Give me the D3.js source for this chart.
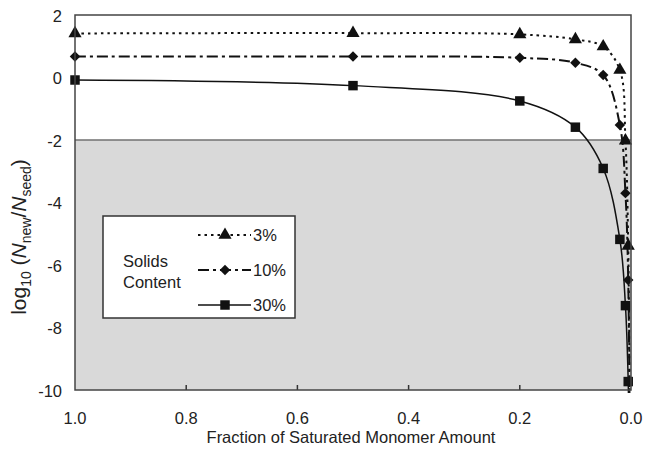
<!DOCTYPE html>
<html>
<head>
<meta charset="utf-8">
<script src="https://cdn.jsdelivr.net/npm/d3@7"></script>
<style>
  body { margin: 0; background: #fff; }
  text { font-family: 'Liberation Sans', Arial, sans-serif; fill: #222; }
</style>
</head>
<body>
<div id="chart"></div>
<script>
// data
let fractions = [1.0, 0.5, 0.2, 0.1, 0.05, 0.02, 0.01, 0.005, 0.002]
let solids3 = [1.41, 1.42, 1.38, 1.22, 0.99, 0.24, -2.02, -5.39, -11.5]
let solids10 = [0.67, 0.67, 0.63, 0.47, 0.08, -1.52, -3.7, -6.48, -12.5]
let solids30 = [-0.08, -0.26, -0.75, -1.59, -2.91, -5.18, -7.3, -9.73, -13]
let xTicks = [1.0, 0.8, 0.6, 0.4, 0.2, 0.0]
let yTicks = [2, 0, -2, -4, -6, -8, -10]
let shadeTop = -2

let margin = { top: 15, left: 75, right: 14, bottom: 63 }
let width = 645 - margin.left - margin.right
let height = 453 - margin.top - margin.bottom
let fontSize = 16.5

let svg = d3
  .select('#chart')
  .append('svg')
  .attr('width', 645)
  .attr('height', 453)
  .append('g')
  .attr('transform', `translate(${margin.left},${margin.top})`)

let x = d3.scaleLinear().domain([1, 0]).range([0, width])
let y = d3.scaleLinear().domain([2, -10]).range([0, height])

svg.append('defs').append('clipPath').attr('id', 'clip')
  .append('rect')
  .attr('x', -7).attr('y', -7)
  .attr('width', width + 14).attr('height', height + 10)

// shaded region
svg.append('rect')
  .attr('x', 0)
  .attr('y', y(shadeTop))
  .attr('width', width)
  .attr('height', height - y(shadeTop))
  .attr('fill', '#d9d9d9')

svg.append('line')
  .attr('x1', 0).attr('x2', width)
  .attr('y1', y(shadeTop)).attr('y2', y(shadeTop))
  .attr('stroke', '#707070')
  .attr('stroke-width', 1.5)

// x axis ticks (inside) and labels
svg.selectAll('.xtick')
  .data(xTicks.slice(1, -1))
  .enter()
  .append('line')
  .attr('x1', d => x(d)).attr('x2', d => x(d))
  .attr('y1', height).attr('y2', height - 5)
  .attr('stroke', '#333')
  .attr('stroke-width', 1.5)

svg.selectAll('.xlabel')
  .data(xTicks)
  .enter()
  .append('text')
  .attr('x', d => x(d))
  .attr('y', height + 34)
  .attr('text-anchor', 'middle')
  .attr('font-size', fontSize)
  .text(d => d.toFixed(1))

svg.selectAll('.ylabel')
  .data(yTicks)
  .enter()
  .append('text')
  .attr('x', -13)
  .attr('y', d => y(d))
  .attr('dy', '0.42em')
  .attr('text-anchor', 'end')
  .attr('font-size', fontSize)
  .text(d => d)

svg.append('text')
  .attr('x', width / 2 - 2)
  .attr('y', height + 53)
  .attr('text-anchor', 'middle')
  .attr('font-size', fontSize)
  .text('Fraction of Saturated Monomer Amount')

let ylab = svg.append('text')
  .attr('transform', `translate(-49,${222}) rotate(-90)`)
  .attr('text-anchor', 'middle')
  .attr('font-size', 21)
ylab.append('tspan').text('log')
ylab.append('tspan').attr('font-size', 14).attr('dy', 5).text('10')
ylab.append('tspan').attr('dy', -5).text(' (')
ylab.append('tspan').attr('font-style', 'italic').text('N')
ylab.append('tspan').attr('font-size', 14).attr('dy', 5).text('new')
ylab.append('tspan').attr('dy', -5).text('/')
ylab.append('tspan').attr('font-style', 'italic').text('N')
ylab.append('tspan').attr('font-size', 14).attr('dy', 5).text('seed')
ylab.append('tspan').attr('dy', -5).text(')')

let series = [
  { name: '3%', values: solids3, dash: '2.5,4', width: 2, symbol: d3.symbolTriangle, size: 75, rot: 0 },
  { name: '10%', values: solids10, dash: '11,4,3,4', width: 2, symbol: d3.symbolSquare, size: 55, rot: 45 },
  { name: '30%', values: solids30, dash: null, width: 1.5, symbol: d3.symbolSquare, size: 90, rot: 0 }
]

let line = d3.line()
  .x(d => x(d[0]))
  .y(d => y(d[1]))
  .curve(d3.curveCatmullRom.alpha(0.5))

let plot = svg.append('g').attr('clip-path', 'url(#clip)')

series.forEach(s => {
  let pts = fractions.map((f, i) => [f, s.values[i]])
  plot.append('path')
    .datum(pts)
    .attr('d', line)
    .attr('fill', 'none')
    .attr('stroke', '#111')
    .attr('stroke-width', s.width)
    .attr('stroke-dasharray', s.dash)

  plot.selectAll(null)
    .data(pts.filter(d => d[1] >= -10))
    .enter()
    .append('path')
    .attr('d', d3.symbol().type(s.symbol).size(s.size))
    .attr('transform', d => `translate(${x(d[0])},${y(d[1])}) rotate(${s.rot})`)
    .attr('fill', '#111')
})

// plot border
svg.append('rect')
  .attr('width', width)
  .attr('height', height)
  .attr('fill', 'none')
  .attr('stroke', '#444')
  .attr('stroke-width', 1.5)

// legend
let legend = svg.append('g').attr('transform', `translate(${103 - margin.left},${216 - margin.top})`)

legend.append('rect')
  .attr('width', 192)
  .attr('height', 102)
  .attr('fill', '#fff')
  .attr('stroke', '#333')
  .attr('stroke-width', 1.5)

legend.append('text').attr('x', 20).attr('y', 51).attr('font-size', fontSize).text('Solids')
legend.append('text').attr('x', 20).attr('y', 72).attr('font-size', fontSize).text('Content')

legend
  .selectAll('.legend-entry')
  .data(series)
  .enter()
  .append('g')
  .attr('class', 'legend-entry')
  .attr('transform', (d, i) => `translate(0,${19 + i * 35})`)
  .each(function(d) {
    let g = d3.select(this)
    g.append('line')
      .attr('x1', 95).attr('x2', 148)
      .attr('stroke', '#111')
      .attr('stroke-width', d.width)
      .attr('stroke-dasharray', d.dash)
    g.append('path')
      .attr('d', d3.symbol().type(d.symbol).size(d.size))
      .attr('transform', `translate(122,0) rotate(${d.rot})`)
      .attr('fill', '#111')
    g.append('text')
      .attr('x', 150)
      .attr('dy', '0.38em')
      .attr('font-size', fontSize)
      .text(d.name)
  })
</script>
</body>
</html>
